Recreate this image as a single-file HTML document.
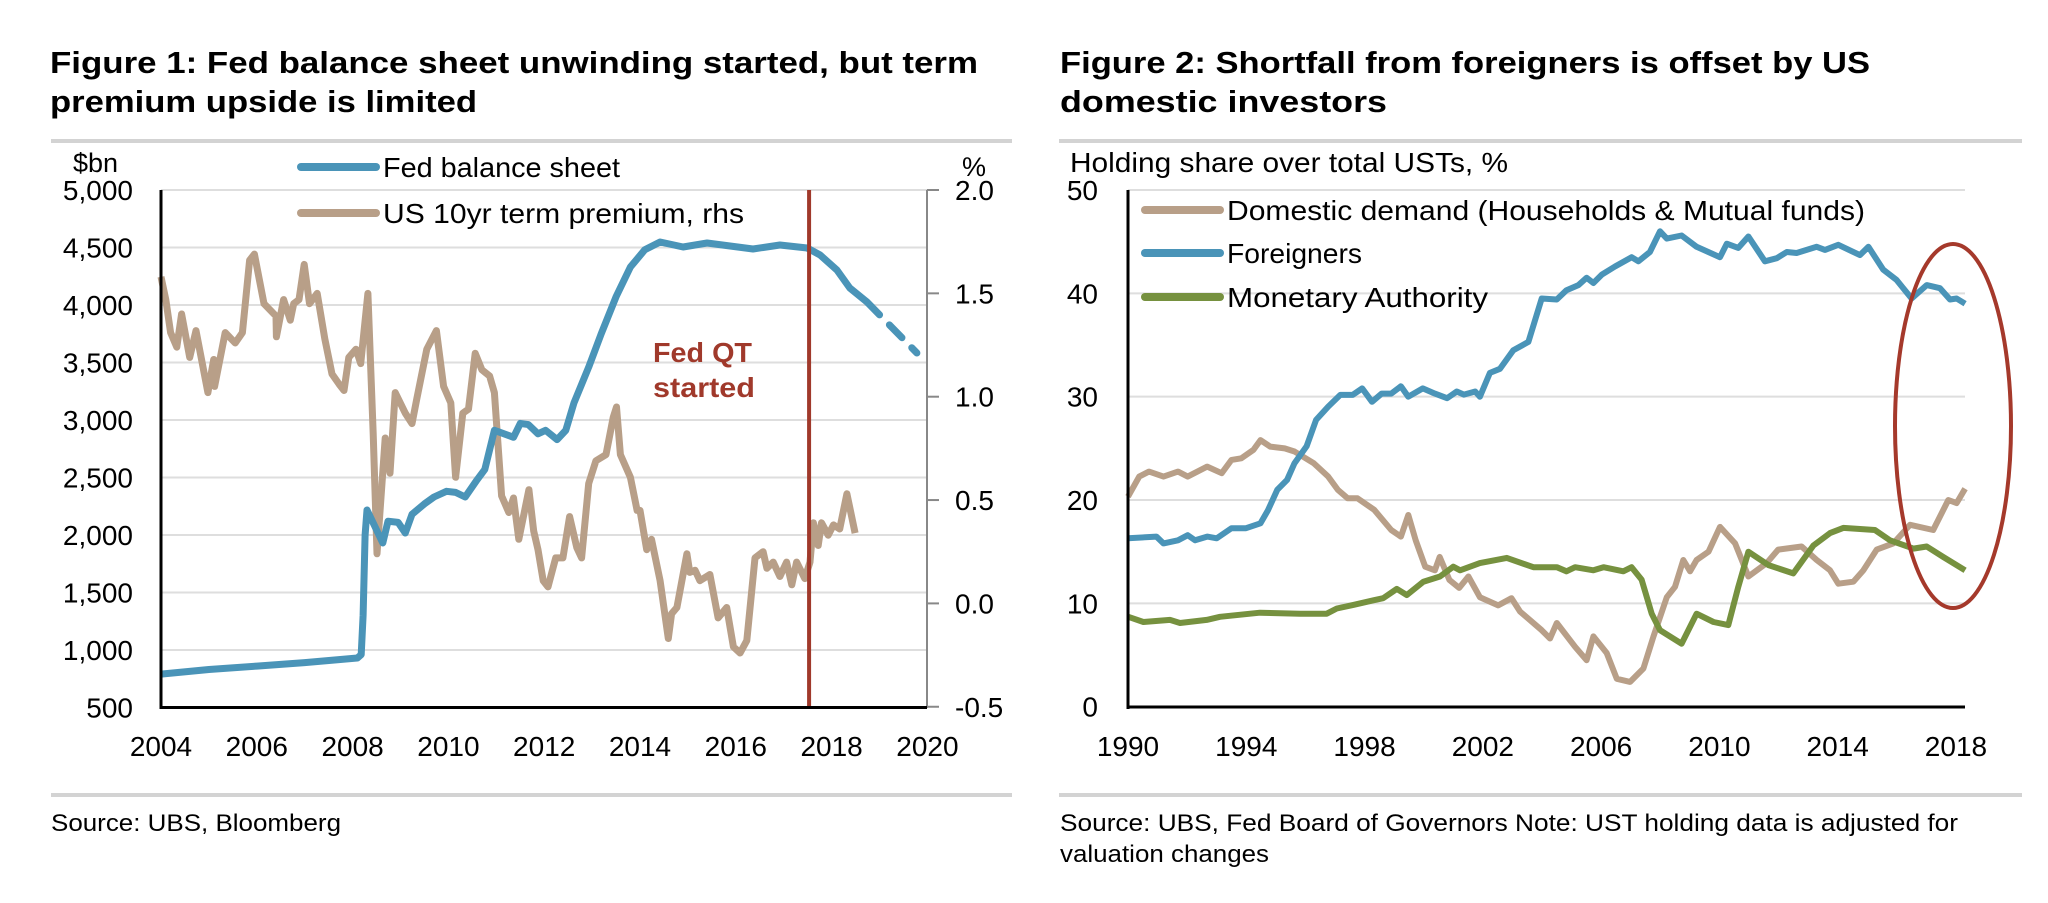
<!DOCTYPE html>
<html><head><meta charset="utf-8"><style>
html,body{margin:0;padding:0;background:#fff;}
svg{display:block;font-family:"Liberation Sans",sans-serif;}
</style></head><body>
<svg id="s" width="2048" height="903" viewBox="0 0 2048 903" xmlns="http://www.w3.org/2000/svg">
<g>
<text x="50" y="73" font-size="31" font-weight="bold" textLength="928" lengthAdjust="spacingAndGlyphs">Figure 1: Fed balance sheet unwinding started, but term</text>
<text x="50" y="112" font-size="31" font-weight="bold" textLength="427" lengthAdjust="spacingAndGlyphs">premium upside is limited</text>
<rect x="51" y="139" width="961" height="4" fill="#d3d3d3"/>
<rect x="51" y="793" width="961" height="4" fill="#d3d3d3"/>
<text x="51" y="831" font-size="24" textLength="290" lengthAdjust="spacingAndGlyphs">Source:  UBS, Bloomberg</text>
<g id="f1"></g>
<text x="73" y="172" font-size="27">$bn</text>
<text x="962" y="176" font-size="27">%</text>
<line x1="301" y1="167" x2="376" y2="167" stroke="#4a94b8" stroke-width="8" stroke-linecap="round"/>
<text x="383" y="177" font-size="28" textLength="237" lengthAdjust="spacingAndGlyphs">Fed balance sheet</text>
<line x1="301" y1="213" x2="376" y2="213" stroke="#b89f88" stroke-width="8" stroke-linecap="round"/>
<text x="383" y="223" font-size="28" textLength="361" lengthAdjust="spacingAndGlyphs">US 10yr term premium, rhs</text>
<text x="653" y="362" font-size="28" font-weight="bold" fill="#a0392b" textLength="99" lengthAdjust="spacingAndGlyphs">Fed QT</text>
<text x="653" y="397" font-size="28" font-weight="bold" fill="#a0392b" textLength="102" lengthAdjust="spacingAndGlyphs">started</text>
</g>
<g>
<text x="1060" y="73" font-size="31" font-weight="bold" textLength="810" lengthAdjust="spacingAndGlyphs">Figure 2: Shortfall from foreigners is offset by US</text>
<text x="1060" y="112" font-size="31" font-weight="bold" textLength="327" lengthAdjust="spacingAndGlyphs">domestic investors</text>
<rect x="1059" y="139" width="963" height="4" fill="#d3d3d3"/>
<rect x="1059" y="793" width="963" height="4" fill="#d3d3d3"/>
<text x="1060" y="831" font-size="24" textLength="898" lengthAdjust="spacingAndGlyphs">Source:  UBS, Fed Board of Governors  Note: UST holding data is adjusted for</text>
<text x="1060" y="862" font-size="24" textLength="209" lengthAdjust="spacingAndGlyphs">valuation changes</text>
<text x="1070" y="172" font-size="28" textLength="438" lengthAdjust="spacingAndGlyphs">Holding share over total USTs, %</text>
<g id="f2"></g>
<line x1="1145" y1="210" x2="1220" y2="210" stroke="#b89f88" stroke-width="8" stroke-linecap="round"/>
<text x="1227" y="220" font-size="28" textLength="638" lengthAdjust="spacingAndGlyphs">Domestic demand (Households &amp; Mutual funds)</text>
<line x1="1145" y1="253" x2="1220" y2="253" stroke="#4a94b8" stroke-width="8" stroke-linecap="round"/>
<text x="1227" y="263" font-size="28" textLength="135" lengthAdjust="spacingAndGlyphs">Foreigners</text>
<line x1="1145" y1="297" x2="1220" y2="297" stroke="#76913f" stroke-width="8" stroke-linecap="round"/>
<text x="1227" y="307" font-size="28" textLength="261" lengthAdjust="spacingAndGlyphs">Monetary Authority</text>
<ellipse cx="1953" cy="426" rx="58" ry="182" fill="none" stroke="#a5392b" stroke-width="4"/>
</g>
</svg>
<script>
// ---------- Figure 1 data ----------
const f1LeftTicks = [500,1000,1500,2000,2500,3000,3500,4000,4500,5000];
const f1LeftLabels = ["500","1,000","1,500","2,000","2,500","3,000","3,500","4,000","4,500","5,000"];
const f1RightTicks = [-0.5,0.0,0.5,1.0,1.5,2.0];
const f1RightLabels = ["-0.5","0.0","0.5","1.0","1.5","2.0"];
const f1XTicks = [2004,2006,2008,2010,2012,2014,2016,2018,2020];
const fedYears = [2004.0,2005.0,2006.0,2007.0,2008.1,2008.18,2008.22,2008.26,2008.3,2008.63,2008.74,2008.95,2009.1,2009.24,2009.5,2009.7,2009.96,2010.15,2010.35,2010.6,2010.76,2010.96,2011.36,2011.5,2011.67,2011.87,2012.03,2012.27,2012.45,2012.62,2012.93,2013.19,2013.5,2013.8,2014.1,2014.42,2014.9,2015.4,2016.36,2016.92,2017.49,2017.76,2018.11,2018.38,2018.74];
const fedValues = [790,830,860,890,930,960,1300,2000,2217,1930,2120,2110,2017,2180,2270,2330,2380,2370,2330,2480,2570,2910,2850,2970,2960,2880,2910,2830,2910,3147,3460,3750,4070,4330,4480,4548,4504,4539,4487,4522,4496,4435,4304,4148,4026];
const fedProjYears = [2018.74,2019.78];
const fedProjValues = [4026,3583];
const tpYears = [2004.0,2004.1,2004.2,2004.33,2004.43,2004.6,2004.73,2004.98,2005.1,2005.12,2005.34,2005.55,2005.7,2005.85,2005.95,2006.15,2006.4,2006.41,2006.56,2006.7,2006.77,2006.88,2006.99,2007.1,2007.26,2007.42,2007.57,2007.72,2007.82,2007.92,2008.07,2008.17,2008.32,2008.43,2008.51,2008.68,2008.78,2008.89,2009.1,2009.24,2009.34,2009.55,2009.75,2009.9,2010.05,2010.15,2010.3,2010.42,2010.56,2010.7,2010.86,2010.96,2011.11,2011.26,2011.36,2011.47,2011.68,2011.78,2011.87,2011.98,2012.08,2012.24,2012.39,2012.53,2012.68,2012.78,2012.93,2013.08,2013.29,2013.44,2013.51,2013.59,2013.8,2013.94,2014.0,2014.14,2014.24,2014.42,2014.59,2014.66,2014.77,2014.98,2015.04,2015.15,2015.25,2015.46,2015.63,2015.81,2015.95,2016.09,2016.23,2016.4,2016.57,2016.65,2016.78,2016.92,2017.06,2017.17,2017.27,2017.44,2017.55,2017.62,2017.72,2017.79,2017.93,2018.04,2018.17,2018.32,2018.49];
const tpValues = [1.58,1.47,1.31,1.24,1.40,1.19,1.32,1.02,1.18,1.05,1.31,1.26,1.31,1.66,1.69,1.45,1.39,1.29,1.47,1.37,1.45,1.47,1.64,1.45,1.5,1.28,1.11,1.06,1.03,1.19,1.23,1.16,1.50,0.82,0.24,0.8,0.63,1.02,0.92,0.87,0.99,1.23,1.32,1.05,0.97,0.61,0.92,0.94,1.21,1.13,1.1,1.02,0.52,0.44,0.51,0.31,0.55,0.35,0.26,0.11,0.08,0.22,0.22,0.42,0.27,0.22,0.58,0.69,0.72,0.9,0.95,0.72,0.61,0.45,0.45,0.26,0.31,0.11,-0.17,-0.05,-0.02,0.24,0.15,0.16,0.11,0.14,-0.07,-0.02,-0.21,-0.24,-0.18,0.22,0.25,0.17,0.2,0.13,0.2,0.09,0.2,0.12,0.2,0.39,0.28,0.39,0.33,0.38,0.36,0.53,0.34];
const qtYear = 2017.53;

// ---------- Figure 2 data ----------
const f2YTicks = [0,10,20,30,40,50];
const f2XTicks = [1990,1994,1998,2002,2006,2010,2014,2018];
const forYears = [1990.0,1990.96,1991.2,1991.69,1992.02,1992.27,1992.68,1993.0,1993.5,1993.99,1994.48,1994.73,1995.05,1995.38,1995.63,1996.04,1996.36,1996.77,1997.18,1997.6,1997.92,1998.25,1998.58,1998.9,1999.23,1999.48,1999.97,2000.38,2000.79,2001.12,2001.36,2001.74,2001.9,2002.24,2002.58,2003.03,2003.54,2003.99,2004.5,2004.83,2005.23,2005.51,2005.74,2006.02,2006.47,2007.03,2007.26,2007.65,2007.99,2008.22,2008.72,2009.23,2010.02,2010.25,2010.64,2010.98,2011.54,2011.94,2012.28,2012.61,2013.29,2013.57,2014.02,2014.75,2015.04,2015.54,2015.99,2016.5,2017.01,2017.46,2017.8,2018.02,2018.31];
const forValues = [16.3,16.46,15.8,16.1,16.6,16.1,16.46,16.3,17.27,17.27,17.75,19.0,21.0,21.95,23.56,25.2,27.75,29.04,30.17,30.17,30.8,29.5,30.3,30.3,31.0,30.0,30.8,30.3,29.85,30.5,30.2,30.5,30.0,32.3,32.7,34.5,35.3,39.5,39.4,40.3,40.8,41.5,41.0,41.8,42.6,43.5,43.1,44.0,46.0,45.3,45.6,44.5,43.5,44.8,44.4,45.5,43.1,43.4,44.0,43.9,44.5,44.2,44.7,43.7,44.5,42.3,41.3,39.5,40.8,40.5,39.4,39.5,39.0];
const domYears = [1990.0,1990.38,1990.71,1991.2,1991.69,1992.02,1992.68,1993.17,1993.5,1993.83,1994.24,1994.48,1994.81,1995.3,1995.63,1996.28,1996.77,1997.1,1997.43,1997.76,1998.33,1998.9,1999.23,1999.48,1999.73,2000.05,2000.38,2000.54,2000.87,2001.2,2001.51,2001.9,2002.52,2002.97,2003.26,2003.99,2004.27,2004.5,2005.12,2005.51,2005.74,2006.19,2006.53,2006.98,2007.43,2007.77,2008.22,2008.5,2008.78,2009.01,2009.23,2009.63,2010.02,2010.53,2010.98,2011.6,2011.99,2012.78,2013.29,2013.74,2014.02,2014.53,2014.87,2015.32,2015.88,2016.45,2017.23,2017.74,2018.02,2018.31];
const domValues = [20.33,22.27,22.75,22.27,22.75,22.27,23.23,22.6,23.88,24.04,24.85,25.8,25.17,25.0,24.7,23.56,22.27,20.98,20.17,20.17,19.04,17.1,16.46,18.55,16.1,13.55,13.2,14.5,12.27,11.5,12.6,10.6,9.8,10.5,9.2,7.4,6.6,8.1,5.8,4.5,6.8,5.2,2.7,2.4,3.7,6.8,10.6,11.6,14.2,13.1,14.2,15.0,17.4,15.8,12.6,13.9,15.2,15.5,14.2,13.2,11.9,12.1,13.2,15.2,15.8,17.6,17.1,20.0,19.7,21.1];
const monYears = [1990.01,1990.52,1991.42,1991.76,1992.66,1993.11,1994.46,1995.82,1996.72,1997.06,1997.62,1998.3,1998.63,1999.09,1999.43,1999.99,2000.55,2001.0,2001.23,2001.9,2002.81,2003.71,2004.5,2004.83,2005.12,2005.74,2006.08,2006.75,2007.03,2007.37,2007.71,2007.99,2008.72,2009.23,2009.8,2010.3,2010.64,2010.98,2011.66,2012.5,2013.18,2013.74,2014.19,2015.26,2015.77,2016.56,2017.01,2017.57,2018.31];
const monValues = [8.7,8.2,8.4,8.1,8.4,8.7,9.1,9.0,9.0,9.5,9.85,10.3,10.5,11.4,10.8,12.1,12.6,13.55,13.2,13.9,14.4,13.5,13.5,13.1,13.5,13.2,13.5,13.1,13.5,12.3,9.0,7.4,6.1,9.0,8.2,7.9,11.6,15.0,13.7,12.9,15.6,16.8,17.3,17.1,16.1,15.3,15.5,14.5,13.2];

const NS = "http://www.w3.org/2000/svg";
function mk(parent, tag, attrs){const e=document.createElementNS(NS,tag);for(const k in attrs)e.setAttribute(k,attrs[k]);parent.appendChild(e);return e;}
function pathD(xs, ys, fx, fy){return xs.map((x,i)=>(i?"L":"M")+fx(x).toFixed(1)+","+fy(ys[i]).toFixed(1)).join(" ");}

// Figure 1 axes
const X1 = y => 161 + (y-2004)*47.9;
const YL = v => 707.5 - (v-500)*0.115;
const YR = v => 190 + (2-v)*206.7;
const g1 = document.getElementById("f1");
f1LeftTicks.forEach((t,i)=>{
  if(t>500){const l=mk(g1,"line",{x1:161,x2:927,y1:YL(t),y2:YL(t),stroke:"#dedede","stroke-width":2});
  
  }
  const tx=mk(g1,"text",{x:133,y:YL(t)+10,"font-size":28,"text-anchor":"end"});
  tx.textContent=f1LeftLabels[i];
  
  
});
f1RightTicks.forEach((t,i)=>{
  const tk=mk(g1,"line",{x1:927,x2:939,y1:YR(t),y2:YR(t),stroke:"#888","stroke-width":2});
  
  
  const tx=mk(g1,"text",{x:955,y:YR(t)+10,"font-size":28});
  tx.textContent=f1RightLabels[i];
  
  
});
f1XTicks.forEach(t=>{
  const tx=mk(g1,"text",{x:X1(t),y:756,"font-size":28,"text-anchor":"middle"});
  tx.textContent=String(t);
  
  
});
const ra=mk(g1,"line",{x1:927,x2:927,y1:190,y2:708,stroke:"#888","stroke-width":2});


const tp=mk(g1,"path",{d:pathD(tpYears,tpValues,X1,YR),fill:"none",stroke:"#b89f88","stroke-width":7,"stroke-linejoin":"round"});


const fb=mk(g1,"path",{d:pathD(fedYears,fedValues,X1,YL),fill:"none",stroke:"#4a94b8","stroke-width":7,"stroke-linejoin":"round"});


const fp=mk(g1,"path",{d:pathD(fedProjYears,fedProjValues,X1,YL),fill:"none",stroke:"#4a94b8","stroke-width":7,"stroke-dasharray":"18 14","stroke-linecap":"round"});


const ql=mk(g1,"line",{x1:X1(qtYear),x2:X1(qtYear),y1:190,y2:708,stroke:"#a0392b","stroke-width":4});


const la=mk(g1,"line",{x1:161,x2:161,y1:190,y2:709,stroke:"#000","stroke-width":3});


const ba=mk(g1,"line",{x1:160,x2:927,y1:707.5,y2:707.5,stroke:"#000","stroke-width":3});



// Figure 2 axes
const X2 = y => 1128 + (y-1990)*29.57;
const Y2 = v => 706.7 - v*10.334;
const g2 = document.getElementById("f2");
f2YTicks.forEach(t=>{
  if(t>0){const l=mk(g2,"line",{x1:1128,x2:1965,y1:Y2(t),y2:Y2(t),stroke:"#dedede","stroke-width":2});
  
  }
  const tx=mk(g2,"text",{x:1098,y:Y2(t)+10,"font-size":28,"text-anchor":"end"});
  tx.textContent=String(t);
  
  
});
f2XTicks.forEach(t=>{
  const tx=mk(g2,"text",{x:X2(t),y:756,"font-size":28,"text-anchor":"middle"});
  tx.textContent=String(t);
  
  
});
const dm=mk(g2,"path",{d:pathD(domYears,domValues,X2,Y2),fill:"none",stroke:"#b89f88","stroke-width":6,"stroke-linejoin":"round"});


const mn=mk(g2,"path",{d:pathD(monYears,monValues,X2,Y2),fill:"none",stroke:"#76913f","stroke-width":6,"stroke-linejoin":"round"});


const fr=mk(g2,"path",{d:pathD(forYears,forValues,X2,Y2),fill:"none",stroke:"#4a94b8","stroke-width":6,"stroke-linejoin":"round"});


const la2=mk(g2,"line",{x1:1128,x2:1128,y1:190,y2:709,stroke:"#000","stroke-width":3});


const ba2=mk(g2,"line",{x1:1127,x2:1965,y1:707,y2:707,stroke:"#000","stroke-width":3});


</script>
</body></html>
